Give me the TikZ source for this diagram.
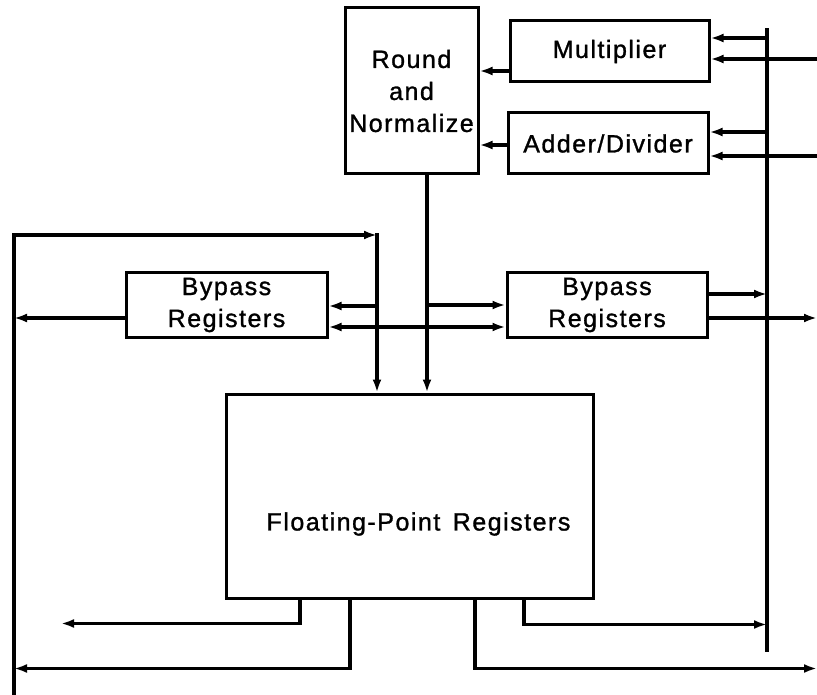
\documentclass[tikz,border=0pt]{standalone}
\usepackage{fontspec}
\setmainfont{Liberation Sans}[LetterSpace=6,FakeBold=1.2]
\usetikzlibrary{arrows.meta,calc}

\begin{document}
\begin{tikzpicture}[x=1pt,y=-1pt,
  wire/.style={line width=3.2pt,line cap=rect},
  arr/.style={wire,-{Latex[length=13pt,width=9pt]}},
  darr/.style={wire,{Latex[length=13pt,width=9pt]}-{Latex[length=13pt,width=9pt]}},
  blk/.style={draw,line width=3pt,rectangle,inner sep=0pt,align=center,
    font=\fontsize{25}{32}\selectfont},
  lbl/.style={inner sep=0pt,font=\fontsize{25}{32}\selectfont}]
\useasboundingbox (0,0) rectangle (817,695);

% functional units
\node[blk,minimum width=133pt,minimum height=166pt] (rn) at (411.5,91) {Round\\and\\Normalize};
\node[blk,minimum width=199pt,minimum height=61pt] (mul) at (609.5,51.5) {Multiplier};
\node[blk,minimum width=200pt,minimum height=61pt] (add) at (608,143.5) {Adder/Divider};

% bypass registers
\node[blk,minimum width=201pt,minimum height=64pt] (bpl) at (226.5,305) {Bypass\\Registers};
\node[blk,minimum width=200pt,minimum height=64pt] (bpr) at (607,305) {Bypass\\Registers};

% register file
\node[blk,minimum width=367pt,minimum height=204pt] (fpr) at (409.5,496) {};
\node[lbl] (fpl) at (418.5,524) {Floating-Point\hspace{0.5em}Registers};

% buses and free ends
\coordinate (bt) at (767,30);
\coordinate (bb) at (767,650);
\coordinate (lt) at (14,235);
\coordinate (lb) at (14,695);
\coordinate (re) at (817,0);
\coordinate (lo) at (61,0);

\draw[wire] (bt) -- (bb);
\draw[wire] (lt) -- (lb);

% into round and normalize
\draw[arr] ([yshift=-19.5pt]mul.west) coordinate (m1) -- (m1 -| rn.east);
\draw[arr] ([yshift=-1.5pt]add.west) coordinate (a1) -- (a1 -| rn.east);

% operand inputs
\path ([yshift=13.5pt]mul.east) coordinate (m2)
      ([yshift=-7.5pt]mul.east) coordinate (m3)
      ([yshift=11.5pt]add.east) coordinate (a2)
      ([yshift=-12.5pt]add.east) coordinate (a3);
\draw[arr] (m2 -| bt) -- (m2);
\draw[arr] (m3 -| re) -- (m3);
\draw[arr] (a2 -| bt) -- (a2);
\draw[arr] (a3 -| re) -- (a3);

% result path down to the register file
\draw[arr] ([xshift=15.5pt]rn.south) coordinate (r1) -- (r1 |- fpr.north);

% loop from the left rail into the register file
\path ([xshift=-32.5pt]fpr.north) coordinate (f1);
\coordinate (lc) at (f1 |- lt);
\draw[arr] (lt) -- (lc);
\draw[arr] (lc) -- (f1);

% left bypass registers
\draw[arr] ([yshift=-13pt]bpl.west) coordinate (b0) -- (b0 -| lt);
\path ([yshift=-1pt]bpl.east) coordinate (b1);
\draw[arr] (b1 -| lc) -- (b1);
\draw[darr] ([yshift=-22pt]bpl.east) -- ([yshift=-22pt]bpr.west);

% right bypass registers
\draw[arr] (bpr.west -| r1) -- (bpr.west);
\draw[arr] ([yshift=11pt]bpr.east) coordinate (b2) -- (b2 -| bt);
\draw[arr] ([yshift=-13pt]bpr.east) coordinate (b3) -- (b3 -| re);

% register file outputs
\draw[arr] ([xshift=-109.5pt]fpr.south) coordinate (o1) -- ++(0,24) coordinate (o1b) -- (o1b -| lo);
\draw[arr] ([xshift=-59.5pt]fpr.south) coordinate (o2) -- ++(0,69) coordinate (o2b) -- (o2b -| lt);
\draw[arr] ([xshift=65.5pt]fpr.south) coordinate (o3) -- ++(0,69) coordinate (o3b) -- (o3b -| re);
\draw[arr] ([xshift=114.5pt]fpr.south) coordinate (o4) -- ++(0,25) coordinate (o4b) -- (o4b -| bt);
\end{tikzpicture}
\end{document}
